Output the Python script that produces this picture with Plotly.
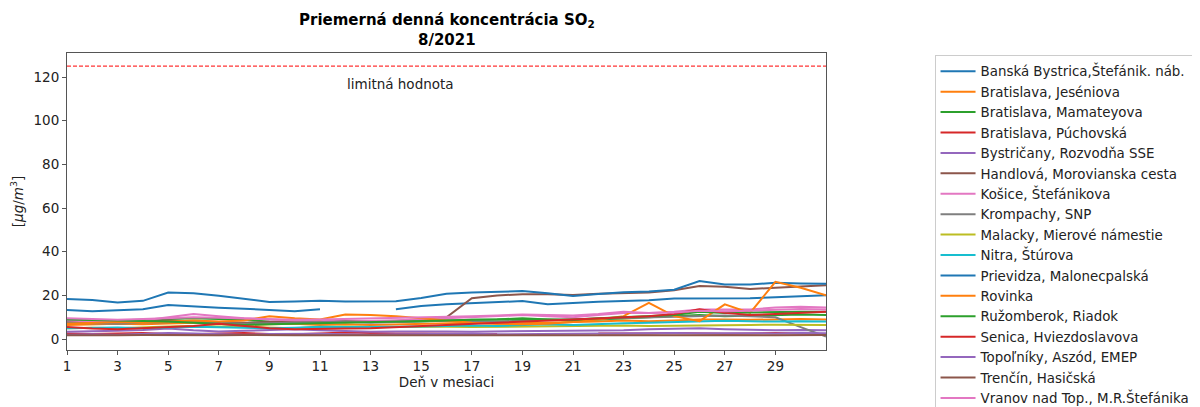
import plotly.graph_objects as go

nan = None
days = list(range(1, 32))

stations = [
    "Banská Bystrica,Štefánik. náb.",
    "Bratislava, Jeséniova",
    "Bratislava, Mamateyova",
    "Bratislava, Púchovská",
    "Bystričany, Rozvodňa SSE",
    "Handlová, Morovianska cesta",
    "Košice, Štefánikova",
    "Krompachy, SNP",
    "Malacky, Mierové námestie",
    "Nitra, Štúrova",
    "Prievidza, Malonecpalská",
    "Rovinka",
    "Ružomberok, Riadok",
    "Senica, Hviezdoslavova",
    "Topoľníky, Aszód, EMEP",
    "Trenčín, Hasičská",
    "Vranov nad Top., M.R.Štefánika",
]

colors = ["#1f77b4", "#ff7f0e", "#2ca02c", "#d62728", "#9467bd", "#8c564b",
          "#e377c2", "#7f7f7f", "#bcbd22", "#17becf", "#1f77b4", "#ff7f0e",
          "#2ca02c", "#d62728", "#9467bd", "#8c564b", "#e377c2"]

banska_bystrica = [13.3, 12.8, 13.2, 13.7, 15.6, 14.9, 14.3, 13.9, 13.5, 12.8, 13.7, nan, nan, 13.7, 15.2,
                   16.0, 16.4, 16.8, 17.4, 15.9, 16.6, 17.1, 17.4, 17.8, 18.6, 18.6, 18.8, 18.7, 19.2, 19.6, 20.1]
ba_jeseniova = [6.5, 6.8, 7.0, 6.8, 7.2, 7.5, 7.0, 6.5, 6.8, 7.0, 6.5, 6.8, 6.5, 6.8, 7.0,
                7.2, 7.5, 7.0, 7.2, 7.5, 7.8, 8.0, 8.5, 8.2, 8.5, 9.0, 9.0, 8.8, 9.0, 9.2, 9.0]
ba_mamateyova = [8.7, 8.5, 8.6, 8.8, 9.0, 9.5, 9.2, 8.8, 8.0, 7.8, 8.5, 8.2, 8.0, 7.8, 8.0,
                 8.5, 8.8, 9.0, 9.5, 9.0, 8.5, 9.0, 9.5, 10.0, 10.5, 11.0, 10.5, 10.8, 11.0, 11.2, 11.0]
ba_puchovska = [2.5, 2.3, 2.5, 2.8, 2.3, 2.2, 2.5, 2.8, 2.3, 2.2, 2.5, 3.0, 2.8, 2.5, 2.6,
                2.5, 2.2, 2.3, nan, 2.8, nan, 2.5, 2.4, 2.6, 2.8, 2.5, 2.4, 2.6, 2.8, 2.5, 2.3]
bystricany = [3.4, 3.5, 3.8, 4.2, 4.9, 4.0, 3.5, 3.8, 4.2, 4.5, 4.0, 3.6, 3.4, 3.5, 3.6,
              3.5, 3.4, 3.5, 3.6, 3.5, 3.6, 3.8, 4.0, 4.5, 4.8, 5.0, 4.5, 4.2, 4.0, 4.2, 4.0]
handlova = [8.0, 7.8, 8.0, 8.2, 8.5, 8.2, 8.0, 7.5, 7.8, 8.0, 8.5, 8.2, 8.0, 8.3, 8.8,
            10.0, 18.7, 20.0, 20.5, 20.5, 20.2, 20.8, 21.2, 21.3, 22.4, 24.3, 24.0, 22.9, 23.5, 24.0, 24.6]
kosice = [8.5, 8.0, 8.0, 8.5, 10.0, 11.5, 10.5, 9.5, 9.0, 8.5, 8.5, 8.0, 8.3, 8.5, 9.0,
          9.5, 10.0, 10.5, 11.0, 10.5, 10.0, 11.0, 12.0, 12.0, 12.5, 13.5, 13.5, 13.5, 14.5, 14.8, 14.5]
krompachy = [7.5, 7.2, 7.0, 7.5, 7.8, 8.0, 7.5, 7.0, 7.2, 7.5, 7.8, 8.0, 7.5, 7.8, 8.0,
             8.5, 8.2, 8.0, 8.5, 8.8, 9.0, 9.2, 9.5, 9.8, 10.0, 10.5, 10.8, 10.5, 10.0, 5.5, 1.2]
malacky = [5.0, 5.2, 5.0, 5.5, 5.8, 6.0, 5.8, 5.5, 5.2, 5.0, 5.5, 5.8, 5.5, 5.6, 5.8,
           5.6, 5.5, 5.6, 5.8, 6.0, 5.8, 6.0, 6.2, 6.0, 6.2, 6.4, 6.4, 6.5, 6.6, 6.5, 6.4]
nitra = [5.0, 5.2, 5.3, 5.0, 5.4, 5.6, 5.4, 5.2, 5.0, 5.2, 5.6, 5.5, 5.4, 5.6, 5.8,
         6.0, 6.2, 6.0, 6.5, 6.8, 6.5, 7.0, 7.2, 7.5, 7.8, 8.0, 8.4, 8.2, 8.0, 8.2, 8.0]
prievidza = [18.3, 17.9, 16.8, 17.5, 21.3, 21.0, 19.8, 18.5, 17.0, 17.2, 17.5, 17.2, 17.1, 17.3, 18.8,
             20.8, 21.3, 21.5, 22.0, 21.0, 19.7, 20.6, 21.5, 21.8, 22.6, 26.6, 25.0, 25.0, 25.8, 25.5, 25.3]
rovinka = [7.0, 7.5, 7.8, 7.5, 8.0, 8.5, 8.0, 8.5, 10.5, 9.5, 9.0, 11.3, 11.0, 10.5, 9.5,
           8.5, 7.5, 7.0, 6.8, 7.0, 7.8, 9.0, 10.5, 16.6, 10.5, 8.2, 15.9, 12.0, 26.2, 23.5, 20.1]
ruzomberok = [9.0, 8.8, 8.5, 8.2, 8.0, 7.5, 7.0, 6.5, 6.8, 7.0, 7.2, 7.5, 7.8, 8.0, 8.2,
              8.5, 8.8, 9.0, 9.2, 9.0, 8.8, 9.5, 10.0, 10.5, 11.0, 12.5, 12.0, 12.2, 12.5, 12.5, 12.5]
senica = [5.5, 4.8, 4.5, 5.0, 5.5, 6.0, 7.0, 6.0, 5.0, 4.5, 4.8, 4.9, 5.0, 5.5, 6.0,
          6.5, 7.0, 7.5, 8.0, 8.5, 9.0, 9.5, 10.0, 10.5, 11.5, 13.6, 12.0, 11.0, 11.5, 12.0, 12.5]
topolniky = [2.0, 2.2, 2.0, 2.5, 2.8, 2.5, 2.2, 2.0, 2.3, 2.5, 2.4, 2.2, 2.0, 2.2, 2.3,
             2.5, 2.4, 2.2, 2.3, 2.5, 2.4, 2.6, 2.5, 2.6, 2.8, 2.7, 2.6, 2.5, 2.6, 2.8, 2.7]
trencin = [1.8, 1.7, 1.8, 1.9, 1.8, 1.7, 1.8, 1.9, 2.0, 1.8, 1.7, 1.8, 1.9, 1.8, 1.7,
           1.8, 1.9, 1.8, 1.7, 1.8, 1.9, 2.0, 1.8, 1.7, 1.8, 1.9, 1.8, 1.8, 1.7, 1.8, 1.9]
vranov = [9.5, 9.0, 8.8, 9.2, 9.5, 10.0, 9.8, 9.5, 9.0, 8.8, 9.0, 9.2, 9.5, 9.8, 10.0,
          10.2, 10.5, 10.8, 11.3, 11.0, 10.8, 11.5, 12.5, 12.0, 12.2, 13.0, 12.8, 13.0, 13.5, 13.8, 13.5]

series = [banska_bystrica, ba_jeseniova, ba_mamateyova, ba_puchovska, bystricany, handlova,
          kosice, krompachy, malacky, nitra, prievidza, rovinka, ruzomberok, senica,
          topolniky, trencin, vranov]

limit_value = 125
limit_label = "limitná hodnota"
title_line1 = "Priemerná denná koncentrácia SO<sub>2</sub>"
title_line2 = "8/2021"
x_ticks = list(range(1, 31, 2))
y_ticks = list(range(0, 121, 20))

fig = go.Figure()
for name, vals, col in zip(stations, series, colors):
    fig.add_trace(go.Scatter(x=days, y=vals, mode="lines", name=name,
                             line=dict(color=col, width=2), connectgaps=False))

fig.add_trace(go.Scatter(x=[1, 31], y=[limit_value, limit_value], mode="lines",
                         line=dict(color="red", width=1, dash="4px,2px"), showlegend=False,
                         hoverinfo="skip"))

fig.add_annotation(x=12, y=117, text=limit_label, showarrow=False, xanchor="left",
                   yanchor="middle", font=dict(size=13.5, color="#222"))

# title as two centred lines above the plot area
fig.add_annotation(x=0.5, xref="paper", y=1.111, yref="paper", text=f"<b>{title_line1}</b>",
                   showarrow=False, xanchor="center", yanchor="middle",
                   font=dict(size=15, color="black"))
fig.add_annotation(x=0.5, xref="paper", y=1.044, yref="paper", text=f"<b>{title_line2}</b>",
                   showarrow=False, xanchor="center", yanchor="middle",
                   font=dict(size=15, color="black"))

axis_common = dict(showline=True, linecolor="#555", linewidth=1, mirror=True,
                   ticks="outside", ticklen=4, tickcolor="#555", showgrid=False,
                   zeroline=False, tickfont=dict(size=13.5, color="#222"), automargin=False)

fig.update_xaxes(range=[1, 31], tickvals=x_ticks,
                 title=dict(text="Deň v mesiaci", font=dict(size=13.5, color="#222"), standoff=4),
                 **axis_common)
fig.update_yaxes(range=[-5, 131], tickvals=y_ticks,
                 title=dict(text="[<i>μg</i>/<i>m</i><sup>3</sup>]", font=dict(size=13.5, color="#222"),
                            standoff=14),
                 **axis_common)

# page body has an 8px default margin: compensate so the plot area lands at x 67-828, y 53-350
fig.update_layout(
    width=1200, height=407,
    margin=dict(l=59, r=380, t=45, b=65),
    paper_bgcolor="white", plot_bgcolor="white",
    font=dict(family="DejaVu Sans", size=13, color="#222"),
    legend=dict(x=1.143, y=0.99, xanchor="left", yanchor="top",
                bordercolor="#cccccc", borderwidth=1, font=dict(size=13.4, color="#222"),
                itemwidth=35, tracegroupgap=0, maxheight=420),
    showlegend=True,
)

fig.write_html("out.html")
